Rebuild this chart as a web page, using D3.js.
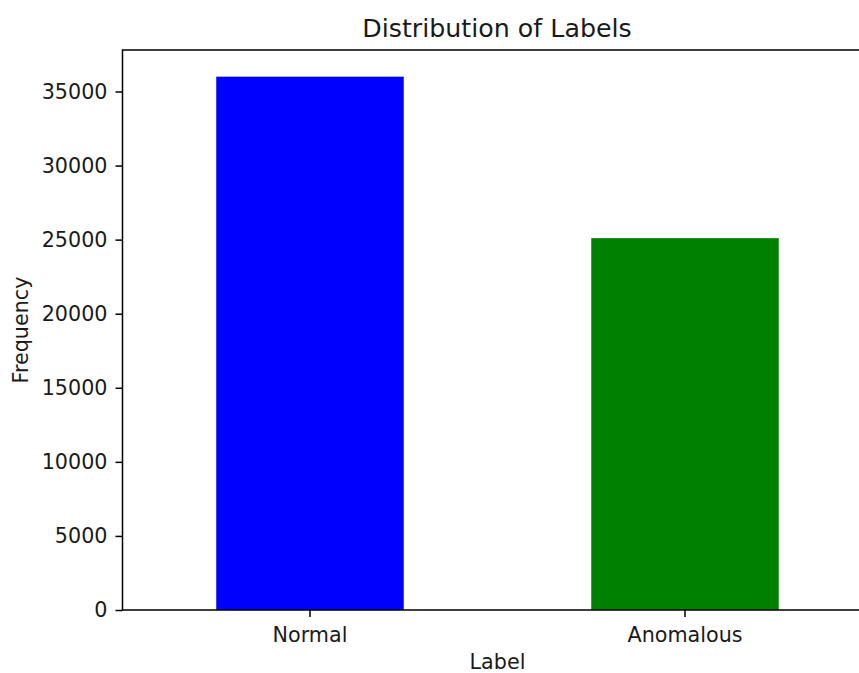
<!DOCTYPE html>
<html><head><meta charset="utf-8">
<script src="https://cdn.jsdelivr.net/npm/d3@7"></script>
<style>body{margin:0;background:#fff}svg{display:block}text{font-family:"DejaVu Sans",sans-serif;fill:#1a1a1a}</style>
</head><body><svg id="c" width="859" height="673"></svg>
<script>
const categories = ["Normal", "Anomalous"];
const values = [36000, 25100];
const colors = ["#0000ff", "#008000"];
const yTicks = [0, 5000, 10000, 15000, 20000, 25000, 30000, 35000];

const svg = d3.select("#c");
const L = 122.5, R = 872.5, T = 50, B = 610;
const x = d3.scaleBand().domain(categories).range([L, R]).paddingInner(0.5).paddingOuter(0.25);
const y = d3.scaleLinear().domain([0, d3.max(values) * 1.05]).range([B, T]);

svg.selectAll("rect.bar").data(categories).enter().append("rect")
  .attr("class", "bar")
  .attr("x", d => x(d)).attr("width", x.bandwidth())
  .attr("y", (d, i) => y(values[i])).attr("height", (d, i) => B - y(values[i]))
  .attr("fill", (d, i) => colors[i]);

const ya = svg.append("g").attr("transform", `translate(${L},0)`)
  .call(d3.axisLeft(y).tickValues(yTicks).tickFormat(d3.format("d")).tickSize(7).tickPadding(8));
const xa = svg.append("g").attr("transform", `translate(0,${B})`)
  .call(d3.axisBottom(x).tickSize(7).tickPadding(10));
[ya, xa].forEach(g => {
  g.select(".domain").remove();
  g.selectAll("line").attr("stroke", "#000").attr("stroke-width", 1.5);
  g.selectAll("text").style("font-size", "20.7px").style("font-family", "DejaVu Sans").attr("fill", "#1a1a1a");
});
// spines
svg.append("rect").attr("x", L).attr("y", T).attr("width", R - L).attr("height", B - T)
  .attr("fill", "none").attr("stroke", "#000").attr("stroke-width", 1.5);

svg.append("text").attr("x", (L + R) / 2 - 0.5).attr("y", 37).attr("text-anchor", "middle")
  .style("font-size", "25.3px").text("Distribution of Labels");
svg.append("text").attr("x", (L + R) / 2).attr("y", 669).attr("text-anchor", "middle")
  .style("font-size", "20.7px").text("Label");
svg.append("text").attr("transform", `translate(28,${(T + B) / 2}) rotate(-90)`).attr("text-anchor", "middle")
  .style("font-size", "20.7px").text("Frequency");
</script></body></html>
